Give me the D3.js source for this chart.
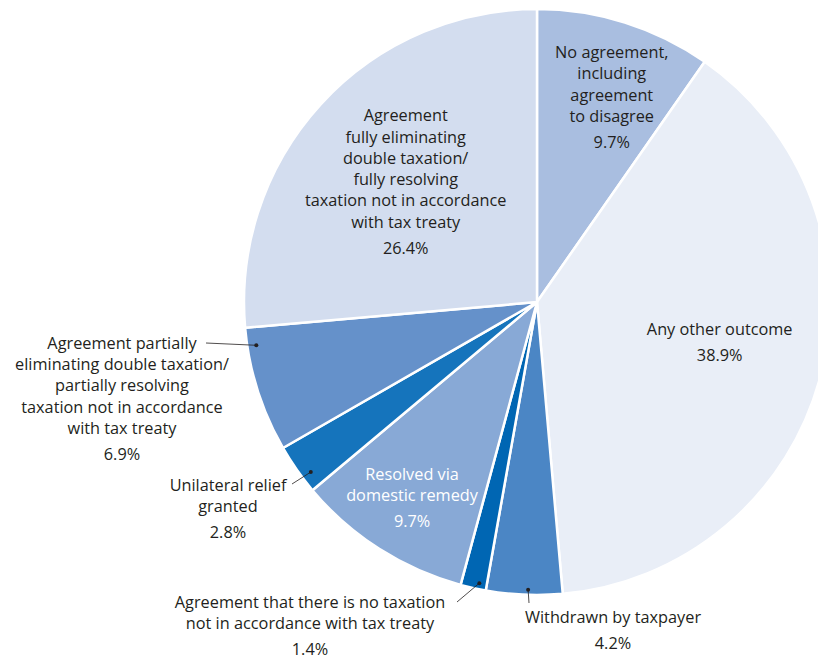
<!DOCTYPE html>
<html>
<head>
<meta charset="utf-8">
<script src="https://cdn.jsdelivr.net/npm/d3@7"></script>
<style>
  body { margin: 0; background: #fff; }
  text { font-family: "Open Sans", sans-serif; font-size: 16.3px; fill: #231f20; }
</style>
</head>
<body>
<div id="chart-container"></div>
<script>
// slices clockwise from 12 o'clock
var labels = [
  ["No agreement,", "including", "agreement", "to disagree"],
  ["Any other outcome"],
  ["Withdrawn by taxpayer"],
  ["Agreement that there is no taxation", "not in accordance with tax treaty"],
  ["Resolved via", "domestic remedy"],
  ["Unilateral relief", "granted"],
  ["Agreement partially", "eliminating double taxation/", "partially resolving", "taxation not in accordance", "with tax treaty"],
  ["Agreement", "fully eliminating", "double taxation/", "fully resolving", "taxation not in accordance", "with tax treaty"]
];
var values = [9.7, 38.9, 4.2, 1.4, 9.7, 2.8, 6.9, 26.4];
var colours = ["#a9bee0", "#e9eef7", "#4b86c5", "#0066b3", "#88a9d6", "#1574bc", "#6591ca", "#d3ddef"];

var svg_width = 818;
var svg_height = 661;
var center_x = 537;
var center_y = 302;
var radius = 293;
var line_h = 21.3;
var pct_gap = 26;

// label placement: inside labels sit near the slice's mid angle (+da degrees) at r,
// outside labels are placed at (x, y) with a leader to a dot in the slice
var label_layout = [
  {inside: true, r: 218, da: 2.6},
  {inside: true, r: 187, da: -2.6},
  {inside: false, x: 613, y: 617, dot_r: 288, dot_t: 0.45, line_to: [529, 603]},
  {inside: false, x: 310, y: 602, dot_r: 287, dot_t: 0.3, line_to: [457, 602]},
  {inside: true, r: 232, da: 0, white: true},
  {inside: false, x: 228, y: 485, dot_r: 283, dot_t: 0.3, line_to: [292, 484]},
  {inside: false, x: 122, y: 343, dot_r: 284, dot_t: 0.85, line_to: [206, 343]},
  {inside: true, r: 178, da: 0}
];

var svg = d3.select("#chart-container")
  .append("svg")
  .attr("width", svg_width)
  .attr("height", svg_height);

var pie = d3.pie()
  .sort(null)
  .value(function(d) { return d; });

var arc = d3.arc()
  .innerRadius(0)
  .outerRadius(radius);

var arcs = pie(values);

var g = svg.append("g")
  .attr("transform", "translate(" + center_x + "," + center_y + ")");

g.selectAll(".slice")
  .data(arcs)
  .enter()
  .append("path")
  .attr("class", "slice")
  .attr("d", arc)
  .attr("fill", function(d, i) { return colours[i]; })
  .attr("stroke", "#fff")
  .attr("stroke-width", 2.5)
  .attr("stroke-linejoin", "round");

function polar(r, a) {
  return [center_x + r * Math.sin(a), center_y - r * Math.cos(a)];
}

var lab = svg.append("g");

arcs.forEach(function(d, i) {
  var lay = label_layout[i];
  var lines = labels[i];
  var pct = d3.format(".1f")(values[i]) + "%";
  var cx, top;
  var block = (lines.length - 1) * line_h + pct_gap;

  if (lay.inside) {
    var mid = (d.startAngle + d.endAngle) / 2 + lay.da * Math.PI / 180;
    var p = polar(lay.r, mid);
    cx = p[0];
    top = p[1] - block / 2;
  } else {
    cx = lay.x;
    top = lay.y;
    var a = d.startAngle + lay.dot_t * (d.endAngle - d.startAngle);
    var dot = polar(lay.dot_r, a);
    lab.append("line")
      .attr("x1", lay.line_to[0])
      .attr("y1", lay.line_to[1])
      .attr("x2", dot[0])
      .attr("y2", dot[1])
      .attr("stroke", "#231f20")
      .attr("stroke-width", 0.8);
    lab.append("circle")
      .attr("cx", dot[0])
      .attr("cy", dot[1])
      .attr("r", 2)
      .attr("fill", "#231f20");
  }

  var t = lab.append("text")
    .attr("text-anchor", "middle")
    .style("fill", lay.white ? "#fff" : "#231f20");

  lines.forEach(function(s, k) {
    t.append("tspan")
      .attr("x", cx)
      .attr("y", top + k * line_h)
      .attr("dy", "0.35em")
      .text(s);
  });
  t.append("tspan")
    .attr("x", cx)
    .attr("y", top + (lines.length - 1) * line_h + pct_gap)
    .attr("dy", "0.35em")
    .text(pct);
});
</script>
</body>
</html>
